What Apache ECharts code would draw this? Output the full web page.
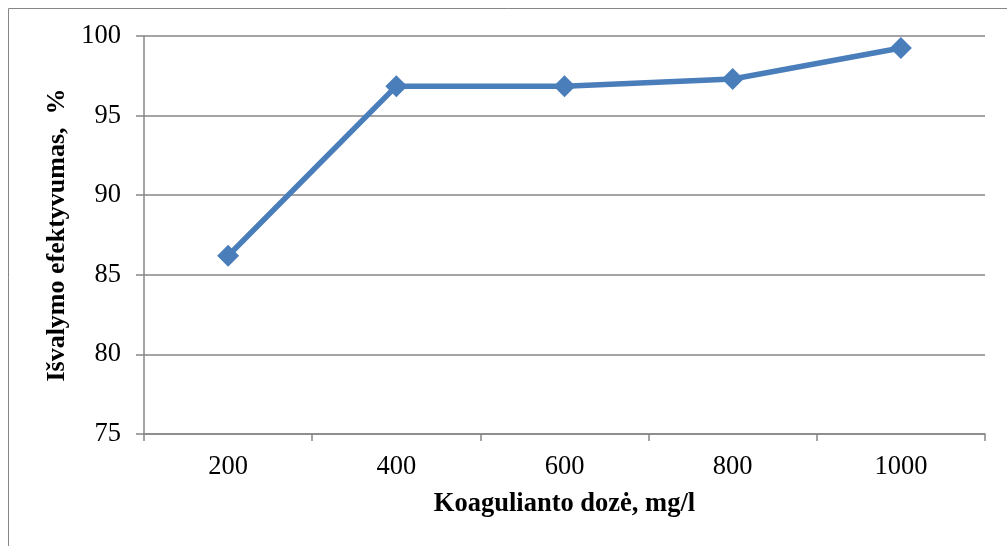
<!DOCTYPE html>
<html><head><meta charset="utf-8">
<script src="https://cdn.jsdelivr.net/npm/echarts@6/dist/echarts.min.js"></script>
<style>html,body{margin:0;padding:0;background:#fff}#c{width:1007px;height:546px}</style>
</head><body><div id="c"></div>
<script>
var categories = ['200', '400', '600', '800', '1000'];
var values = [86.2, 96.85, 96.85, 97.3, 99.25];
var yTicks = [75, 80, 85, 90, 95, 100];

var chart = echarts.init(document.getElementById('c'), null, {renderer: 'canvas'});
var font = '"Liberation Serif", "Times New Roman", serif';
chart.setOption({
  animation: false,
  graphic: [{
    type: 'rect', shape: {x: 8.5, y: 8.5, width: 1010, height: 560},
    style: {fill: 'none', stroke: '#868686', lineWidth: 1}, silent: true
  }],
  grid: {left: 144, right: 22, top: 36, bottom: 112},
  xAxis: {
    type: 'category', data: categories, boundaryGap: true,
    name: 'Koagulianto dozė, mg/l', nameLocation: 'middle', nameGap: 57,
    nameTextStyle: {fontFamily: font, fontSize: 26.5, fontWeight: 'bold', color: '#000'},
    axisLine: {lineStyle: {color: '#868686', width: 1.5}},
    axisTick: {show: true, length: 7, lineStyle: {color: '#868686', width: 1.5}, alignWithLabel: false},
    axisLabel: {fontFamily: font, fontSize: 26.5, color: '#000', margin: 20}
  },
  yAxis: {
    type: 'value', min: 75, max: 100, interval: 5,
    name: 'Išvalymo efektyvumas,  %', nameLocation: 'middle', nameGap: 71,
    nameTextStyle: {fontFamily: font, fontSize: 26, fontWeight: 'bold', color: '#000'},
    axisLine: {show: true, lineStyle: {color: '#868686', width: 1.5}},
    axisTick: {show: true, length: 8, lineStyle: {color: '#868686', width: 1.5}},
    axisLabel: {fontFamily: font, fontSize: 26.5, color: '#000', margin: 23,
      formatter: function (v) { return yTicks.indexOf(v) >= 0 ? String(v) : ''; }},
    splitLine: {show: true, lineStyle: {color: '#868686', width: 1.5}}
  },
  series: [{
    type: 'line', data: values,
    symbol: 'diamond', symbolSize: 22,
    lineStyle: {color: '#4a7ebb', width: 5.5},
    itemStyle: {color: '#4a7ebb'}
  }]
});
</script></body></html>
